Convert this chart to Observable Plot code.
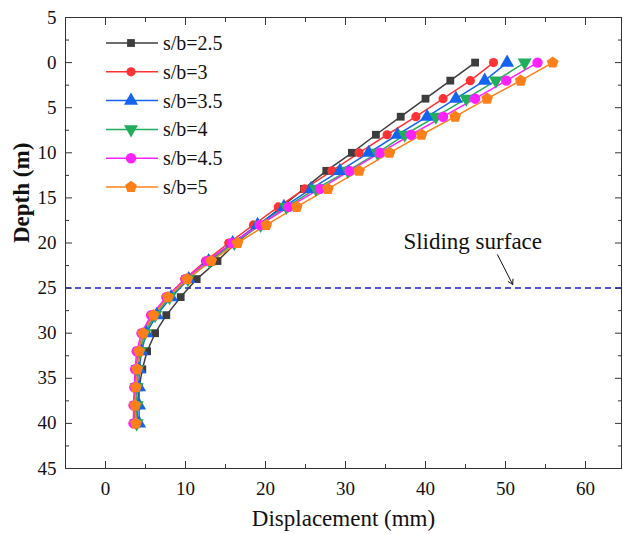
<!DOCTYPE html>
<html><head><meta charset="utf-8">
<script src="https://cdn.jsdelivr.net/npm/d3@7"></script>
<script src="https://cdn.jsdelivr.net/npm/@observablehq/plot@0.6"></script>
<style>
body{margin:0;background:#fff}
#chart{position:relative;width:623px;height:534px}
</style>
</head><body><div id="chart"></div>
<script>
// ---- data ----
const depths = [0,2,4,6,8,10,12,14,16,18,20,22,24,26,28,30,32,34,36,38,40];
const seriesNames = ["s/b=2.5","s/b=3","s/b=3.5","s/b=4","s/b=4.5","s/b=5"];
const sb25 = [46.2,43.1,40.0,36.9,33.8,30.8,27.6,24.8,22.0,19.2,16.3,14.0,11.4,9.4,7.6,6.2,5.2,4.6,4.2,4.0,3.9];
const sb3  = [48.5,45.6,42.2,38.8,35.2,31.7,28.3,24.9,21.6,18.5,15.4,12.5,9.9,7.7,5.9,4.7,4.1,3.8,3.7,3.6,3.6];
const sb35 = [50.2,47.4,43.8,40.2,36.5,32.9,29.3,25.7,22.3,19.0,15.9,12.9,10.4,8.2,6.4,5.1,4.5,4.2,4.2,4.2,4.2];
const sb4  = [52.4,48.8,45.1,41.3,37.4,34.0,30.3,26.3,22.6,19.4,16.1,13.0,10.3,8.0,6.2,4.9,4.3,4.0,3.9,3.9,3.9];
const sb45 = [54.0,50.1,46.2,42.2,38.2,34.3,30.5,26.8,22.9,19.3,15.8,12.7,10.0,7.6,5.7,4.5,3.9,3.7,3.6,3.5,3.5];
const sb5  = [55.9,51.9,47.7,43.7,39.5,35.5,31.7,27.8,23.9,20.1,16.5,13.2,10.2,7.8,6.0,4.7,4.2,3.95,3.8,3.7,3.8];
const seriesValues = [sb25, sb3, sb35, sb4, sb45, sb5];

const xTicks = [0,10,20,30,40,50,60];
const xMinorTicks = [-5,5,15,25,35,45,55];
const yTicks = [-5,0,5,10,15,20,25,30,35,40,45];
const yTickLabels = ["5","0","5","10","15","20","25","30","35","40","45"];
const yMinorTicks = [-2.5,2.5,7.5,12.5,17.5,22.5,27.5,32.5,37.5,42.5];
const xLabel = "Displacement (mm)";
const yLabel = "Depth (m)";
const slidingDepth = [25];
const annotationText = ["Sliding surface"];
const annotationAt = [45.9, 19.9];
const arrowFrom = [49.0, 21.3];
const arrowTo = [50.9, 24.6];

// ---- styling ----
const colors = ["#3d3d3d","#ff3333","#1464f0","#22ad5c","#ff22ff","#ff801a"];
const sqrt3 = Math.sqrt(3);
const triangleDown = {draw(ctx, size){
  const y = -Math.sqrt(size / (sqrt3 * 3));
  ctx.moveTo(0, -y * 2); ctx.lineTo(-sqrt3 * y, y); ctx.lineTo(sqrt3 * y, y); ctx.closePath();
}};
const pentagon = {draw(ctx, size){
  const R = Math.sqrt(size / (2.5 * Math.sin(2 * Math.PI / 5)));
  for (let k = 0; k < 5; k++) {
    const a = -Math.PI / 2 + k * 2 * Math.PI / 5;
    const px = R * Math.cos(a), py = R * Math.sin(a);
    k ? ctx.lineTo(px, py) : ctx.moveTo(px, py);
  }
  ctx.closePath();
}};
const symbols = ["square","circle","triangle",triangleDown,"circle",pentagon];
const d3symbols = [d3.symbolSquare, d3.symbolCircle, d3.symbolTriangle, triangleDown, d3.symbolCircle, pentagon];
const radii = [4.4, 4.6, 5.2, 5.2, 5.2, 5.4];

const rows = [];
seriesNames.forEach((name, i) => depths.forEach((d, j) => rows.push({series: name, idx: i, depth: d, disp: seriesValues[i][j]})));

const font = "Liberation Serif, Times New Roman, serif";
const marks = [];
marks.push(Plot.ruleY(slidingDepth, {y: d => d, stroke: "#1a1acc", strokeWidth: 1.5, strokeDasharray: "6,4"}));
seriesNames.forEach((name, i) => {
  const data = rows.filter(r => r.idx === i);
  marks.push(Plot.line(data, {x: "disp", y: "depth", stroke: colors[i], strokeWidth: 1.5}));
});
seriesNames.forEach((name, i) => {
  const data = rows.filter(r => r.idx === i);
  marks.push(Plot.dot(data, {x: "disp", y: "depth", fill: colors[i], stroke: "none", symbol: symbols[i], r: radii[i]}));
});
marks.push(Plot.text(annotationText, {x: () => annotationAt[0], y: () => annotationAt[1], text: d => d, fontSize: 23, fill: "#111"}));
marks.push(Plot.arrow([0], {x1: () => arrowFrom[0], y1: () => arrowFrom[1], x2: () => arrowTo[0], y2: () => arrowTo[1], stroke: "#111", strokeWidth: 1, headLength: 8, bend: false}));
// axes: inward ticks
for (const anchor of ["bottom","top"]) {
  marks.push(Plot.axisX(xTicks, {anchor, tickSize: -7, tickFormat: () => "", label: null, stroke: "#333"}));
  marks.push(Plot.axisX(xMinorTicks, {anchor, tickSize: -4, tickFormat: () => "", label: null, stroke: "#333"}));
}
for (const anchor of ["left","right"]) {
  marks.push(Plot.axisY(yTicks, {anchor, tickSize: -7, tickFormat: () => "", label: null, stroke: "#333"}));
  marks.push(Plot.axisY(yMinorTicks, {anchor, tickSize: -4, tickFormat: () => "", label: null, stroke: "#333"}));
}
marks.push(Plot.axisX(xTicks, {anchor: "bottom", tickSize: 0, tickPadding: 13, fontSize: 19, fill: "#111", label: null}));
marks.push(Plot.axisY(yTicks, {anchor: "left", tickSize: 0, tickPadding: 9, fontSize: 19, fill: "#111", label: null,
  tickFormat: d => yTickLabels[yTicks.indexOf(d)]}));
marks.push(Plot.frame({stroke: "#333", strokeWidth: 1}));
marks.push(Plot.text([xLabel], {frameAnchor: "bottom", dy: 57, text: d => d, fontSize: 23, fill: "#111"}));
marks.push(Plot.text([yLabel], {frameAnchor: "left", dx: -44, rotate: -90, text: d => d, fontSize: 23, fill: "#111", fontWeight: "bold"}));

const plot = Plot.plot({
  width: 623, height: 534,
  marginLeft: 65, marginRight: 2, marginTop: 17, marginBottom: 66,
  style: {fontFamily: font, background: "#fff", overflow: "visible"},
  x: {domain: [-5, 64.5]},
  y: {domain: [45, -5]},
  marks
});
document.getElementById("chart").appendChild(plot);

// legend
const svg = d3.select(plot);
const lg = svg.append("g");
seriesNames.forEach((name, i) => {
  const cy = 43 + i * 28.8;
  const g = lg.append("g").attr("transform", `translate(0,${cy})`);
  g.append("line").attr("x1", 106).attr("x2", 158).attr("y1", 0).attr("y2", 0).attr("stroke", colors[i]).attr("stroke-width", 1.5);
  g.append("path").attr("transform", "translate(131,0)").attr("d", d3.symbol(d3symbols[i], Math.PI * radii[i] * radii[i])()).attr("fill", colors[i]);
  g.append("text").attr("x", 163).attr("y", 0).attr("dy", "0.35em")
    .attr("text-anchor", "start")
    .style("font-family", font).style("font-size", "20px").style("fill", "#111")
    .text(name);
});
</script>
</body></html>
